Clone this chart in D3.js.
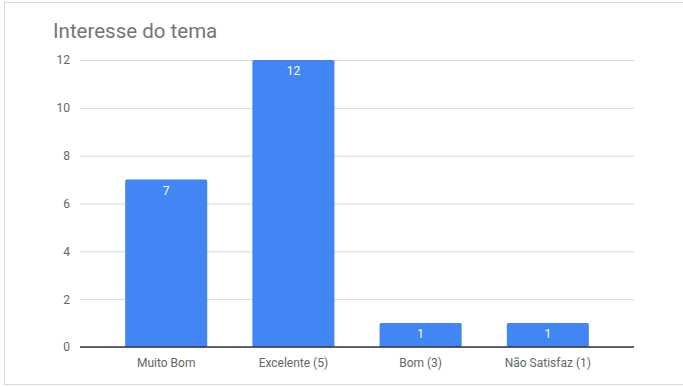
<!DOCTYPE html>
<html>
<head>
<meta charset="utf-8">
<script src="https://cdn.jsdelivr.net/npm/d3@7"></script>
<style>
  html, body { margin: 0; padding: 0; background: #fff; }
  svg { display: block; font-family: Roboto, "Noto Sans", Arial, sans-serif; }
</style>
</head>
<body>
<svg id="chart" width="683" height="387"></svg>
<script>
// Responses per rating
const categories = ["Muito Bom", "Excelente (5)", "Bom (3)", "Não Satisfaz (1)"];
const values = [7, 12, 1, 1];
const yTicks = [0, 2, 4, 6, 8, 10, 12];
const title = "Interesse do tema";

const svg = d3.select("#chart");
const W = 683, H = 387;
const plot = { left: 80, right: 634, top: 60, bottom: 347 };

// Card outline
svg.append("rect")
  .attr("x", 4.5).attr("y", 2.5)
  .attr("width", W).attr("height", 382)
  .attr("fill", "#fff")
  .attr("stroke", "#d9d9d9").attr("stroke-width", 1);

svg.append("text")
  .attr("x", 53).attr("y", 38)
  .attr("font-size", 20.5)
  .attr("fill", "#757575")
  .text(title);

const x = d3.scaleBand()
  .domain(categories)
  .range([plot.left, plot.right])
  .padding(0.355);

const y = d3.scaleLinear()
  .domain([0, 12])
  .range([plot.bottom, plot.top]);

// Gridlines and y tick labels
const yAxis = svg.append("g")
  .attr("transform", `translate(${plot.left},0)`)
  .call(d3.axisLeft(y).tickValues(yTicks).tickSize(-(plot.right - plot.left)).tickPadding(10));
yAxis.select(".domain").remove();
yAxis.selectAll(".tick line").attr("stroke", "#d6d6d6").attr("stroke-width", 1);
yAxis.selectAll(".tick text")
  .attr("fill", "#666").attr("font-size", 12)
  .attr("font-family", "Roboto, sans-serif");

// Bars
svg.append("g").selectAll("rect")
  .data(values)
  .join("rect")
  .attr("x", (d, i) => x(categories[i]))
  .attr("y", d => y(d))
  .attr("width", x.bandwidth())
  .attr("height", d => y(0) - y(d))
  .attr("rx", 1.5)
  .attr("fill", "#4285f4");

// Value labels inside bar tops
svg.append("g").selectAll("text")
  .data(values)
  .join("text")
  .attr("x", (d, i) => x(categories[i]) + x.bandwidth() / 2)
  .attr("y", d => y(d) + 15)
  .attr("text-anchor", "middle")
  .attr("font-size", 12)
  .attr("fill", "#ffffff")
  .text(d => d);

// Baseline
svg.append("line")
  .attr("x1", plot.left).attr("x2", plot.right)
  .attr("y1", y(0)).attr("y2", y(0))
  .attr("stroke", "#333").attr("stroke-width", 1.5);

// Category labels
const xAxis = svg.append("g")
  .attr("transform", `translate(0,${plot.bottom})`)
  .call(d3.axisBottom(x).tickSize(0).tickPadding(11));
xAxis.select(".domain").remove();
xAxis.selectAll(".tick text")
  .attr("fill", "#666").attr("font-size", 12)
  .attr("font-family", "Roboto, sans-serif");
</script>
</body>
</html>
